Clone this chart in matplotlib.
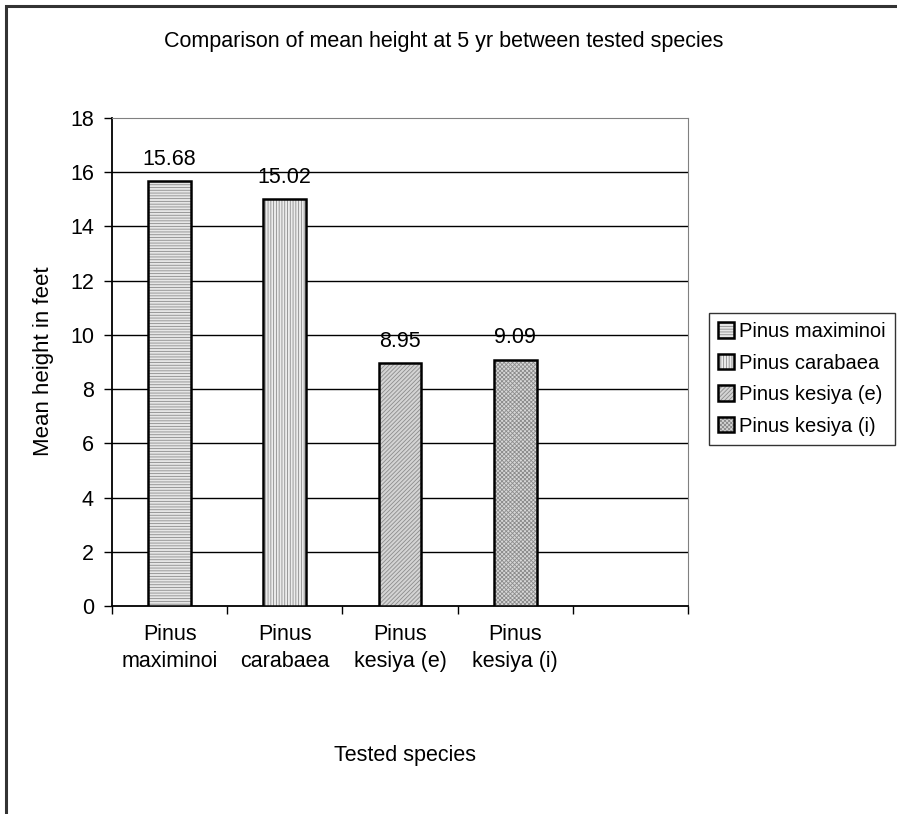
import matplotlib
matplotlib.use('Agg')
import matplotlib.pyplot as plt
import numpy as np
from matplotlib.patches import Rectangle

##################DATA##################
species = ['Pinus maximinoi', 'Pinus carabaea', 'Pinus kesiya (e)', 'Pinus kesiya (i)']
tick_labels = ['Pinus\nmaximinoi', 'Pinus\ncarabaea', 'Pinus\nkesiya (e)', 'Pinus\nkesiya (i)', '']
heights = [15.68, 15.02, 8.95, 9.09]
value_text = ['15.68', '15.02', '8.95', '9.09']
hatches = ['------', '||||||', '////////', 'xxxxxxxx']
faces = ['#e6e6e6', '#ececec', '#d4d4d4', '#d8d8d8']
#########################################

plt.rcParams['font.family'] = ['Liberation Sans', 'DejaVu Sans']
plt.rcParams['font.size'] = 15.5
plt.rcParams['hatch.linewidth'] = 0.6

fig = plt.figure(figsize=(8.97, 8.14), dpi=100)
ax = fig.add_axes([112/897, 1-606/814, 576/897, 488/814])

n_slots = len(tick_labels)
x = np.arange(n_slots)
width = 0.37

handles = []
for i in range(len(species)):
    h1 = ax.bar(x[i], heights[i], width, color=faces[i], edgecolor='#8c8c8c',
                hatch=hatches[i], linewidth=0, zorder=3)
    h2 = ax.bar(x[i], heights[i], width, fill=False, edgecolor='black',
                linewidth=1.8, zorder=4)
    handles.append((h1[0], h2[0]))
    ax.annotate(value_text[i], (x[i], heights[i]), xytext=(0, 8),
                textcoords='offset points', ha='center', va='bottom')

ax.set_xlim(-0.5, n_slots - 0.5)
ax.set_ylim(0, 18)
ax.set_yticks(np.arange(0, 19, 2))
ax.set_xticks(x)
ax.set_xticklabels(tick_labels, linespacing=1.4)
ax.set_xticks(np.arange(-0.5, n_slots, 1), minor=True)
ax.tick_params(axis='x', which='major', length=0, pad=13)
ax.tick_params(axis='x', which='minor', length=6, width=1, direction='out')
ax.tick_params(axis='y', length=6, width=1, direction='out', pad=7)

for yv in np.arange(2, 17, 2):
    ax.axhline(yv, color='black', linewidth=1, zorder=1)

ax.spines['top'].set_color('#808080')
ax.spines['right'].set_color('#808080')
ax.spines['left'].set_linewidth(1.3)
ax.spines['bottom'].set_linewidth(1.3)

fig.text(444/897, 1-42/814, 'Comparison of mean height at 5 yr between tested species',
         ha='center', va='center')
fig.text(405/897, 1-755/814, 'Tested species', ha='center', va='center')
fig.text(44/897, 1-361/814, 'Mean height in feet', ha='center', va='center',
         rotation=90, fontsize=16)

leg = fig.legend(handles, species, loc='upper left', fontsize=14.5,
                 bbox_to_anchor=(709/897, 1-313/814), frameon=True, fancybox=False,
                 handlelength=0.8, handleheight=0.8, handletextpad=0.25,
                 labelspacing=0.62, borderpad=0.45, borderaxespad=0)
leg.get_frame().set_edgecolor('black')
leg.get_frame().set_linewidth(1)

fig.add_artist(Rectangle((6/897, -0.05), 1.0, 1.05 - 6/814, transform=fig.transFigure,
                         fill=False, edgecolor='#333333', linewidth=2.2))

plt.savefig('out.png', dpi=100)
